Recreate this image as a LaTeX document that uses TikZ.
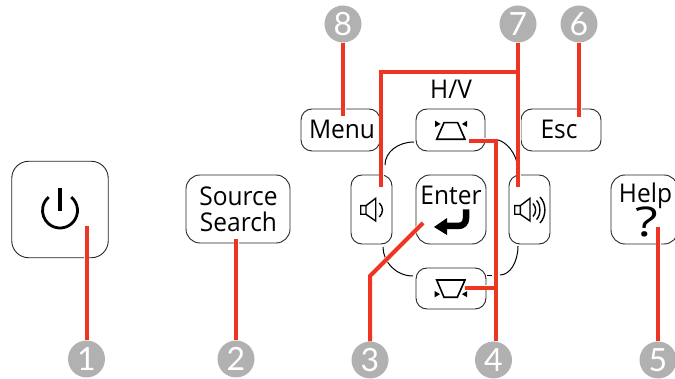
\documentclass[tikz,border=0pt]{standalone}
\usepackage{graphicx}
\usepackage{fontspec}
\setmainfont[FakeStretch=0.95]{Open Sans}
\newfontfamily\numfont{Lato}
\begin{document}
\begin{tikzpicture}[x=1pt,y=-1pt,
  btn/.style={draw=black!85,line width=0.9pt,rounded corners=#1,inner sep=0pt,outer sep=0pt,fill=white},
  btn/.default=11pt,
  lbl/.style={font=\fontsize{25.8}{27}\selectfont,anchor=base,inner sep=0pt,text=black},
  num/.style={circle,fill=numgray,minimum size=37pt,inner sep=0pt,text=white,font=\numfont\fontsize{32}{32}\selectfont},
  redline/.style={draw=leader,line width=4pt,miter limit=10,preaction={draw=white,line width=5pt}},
  arcline/.style={draw=black,line width=1pt},
  icon/.style={draw=black,line width=1.6pt,line join=miter},
  spk/.style={draw=black,line width=1.4pt,line join=miter},
  tri/.style={fill=black}]
\definecolor{leader}{HTML}{EE3524}
\definecolor{numgray}{HTML}{B1B1B1}
\clip (0,0) rectangle (675,379);
\fill[white] (0,0) rectangle (675,379);
% connecting arcs of the direction pad
\draw[arcline] (414,142) .. controls (398,142) and (385,152) .. (385,165);
\draw[arcline] (498,140) .. controls (506,142) and (516,152) .. (518,168);
\draw[arcline] (383,247) .. controls (383,262) and (396,276) .. (413,276);
\draw[arcline] (518,246) .. controls (518,262) and (510,275) .. (500,275);
\draw[arcline] (487,276) -- (492,276);
% buttons
\node[btn=17pt,minimum width=96.5pt,minimum height=96.5pt] (power) at (60,209.5) {};
\node[btn=14pt,minimum width=104pt,minimum height=68pt] (source) at (238,209) {};
\node[btn,minimum width=79pt,minimum height=42pt] (menu) at (340.5,130) {};
\node[btn,minimum width=69pt,minimum height=42pt] (up) at (450.5,130) {};
\node[btn,minimum width=80pt,minimum height=42pt] (esc) at (561,130) {};
\node[btn,minimum width=41pt,minimum height=69pt] (voll) at (371.5,209.5) {};
\node[btn=14pt,minimum width=70pt,minimum height=69pt] (enter) at (451,209.5) {};
\node[btn,minimum width=41pt,minimum height=69pt] (volr) at (529.5,209.5) {};
\node[btn,minimum width=70pt,minimum height=41pt] (down) at (451,288.5) {};
\node[btn=14pt,minimum width=67pt,minimum height=69pt] (help) at (644.5,209.5) {};
% labels
\node[lbl] (tmenu) at (342,138.5) {Menu};
\node[lbl] (tesc) at (559,138.5) {Esc};
\node[lbl] (thv) at (451,99) {H/V};
\node[lbl] (tenter) at (451,205) {Enter};
\node[lbl] (tsource) at (238.5,206) {Source};
\node[lbl] (tsearch) at (238.5,232) {Search};
\node[lbl] (thelp) at (645.5,203) {Help};
\node[lbl,font=\fontsize{41}{41}\selectfont] (tq) at (647,237) {\scalebox{1.35}[1]{?}};
% power icon
\draw[line width=2.8pt] (71.25,197.1) arc[start angle=50,end angle=-230,radius=17.5pt];
\draw[line width=3.6pt] (60,188) -- (60,211);
% keystone icons
\draw[icon] (444,122.7) -- (457.7,122.7) -- (465,139.3) -- (436.7,139.3) -- cycle;
\fill[tri] (435.2,120.7) -- (435.2,127) -- (440.5,124) -- cycle;
\fill[tri] (467.2,120.7) -- (467.2,127) -- (461.9,124) -- cycle;
\draw[icon] (436.7,280) -- (465,280) -- (457.3,297.3) -- (444,297.3) -- cycle;
\fill[tri] (434.7,291) -- (434.7,297.3) -- (440,294.2) -- cycle;
\fill[tri] (467.2,291) -- (467.2,297.3) -- (461.9,294.2) -- cycle;
% speaker icons
\draw[spk] (360.7,205.7) -- (366,205.7) -- (375.7,198.3) -- (375.7,221) -- (366,214.3) -- (360.7,214.3) -- cycle (366,205.7) -- (366,214.3);
\draw[spk] (379.3,203) .. controls (383.5,207) and (383.5,213) .. (379.3,217);
\draw[spk] (514.7,205.7) -- (520.3,205.7) -- (530,198.3) -- (530,221) -- (520.3,214.3) -- (514.7,214.3) -- cycle (520.3,205.7) -- (520.3,214.3);
\draw[spk] (533,203.5) .. controls (536.5,207) and (536.5,213) .. (533,216.5);
\draw[spk] (536.5,200.5) .. controls (541,205) and (541,215) .. (536.5,219.5);
\draw[spk] (540,197) .. controls (546.5,204) and (546.5,216) .. (540,223);
% enter arrow
\draw[line width=6.5pt] (466,209.5) -- (466,218) .. controls (466,223) and (463,226) .. (458,226) -- (445,226);
\fill (434,227) -- (447,218) -- (447,235) -- cycle;
% numbered circles
\node[num] (n1) at (86.5,359) {1};
\node[num] (n2) at (236,359) {2};
\node[num] (n3) at (370,360) {3};
\node[num] (n4) at (493.5,360) {4};
\node[num] (n5) at (658,360) {5};
\node[num] (n6) at (579,24) {6};
\node[num] (n7) at (518,24) {7};
\node[num] (n8) at (343,24) {8};
% leader ends
\coordinate (p1) at (86.5,226);
\coordinate (p2) at (236,239);
\coordinate (p3a) at (370,276);
\coordinate (p3b) at (423,223);
\coordinate (p4top) at (495.5,141);
\coordinate (p4end) at (469,141);
\coordinate (p4j) at (495.5,288);
\coordinate (p4d) at (465,288);
\coordinate (p5) at (658,227);
\coordinate (p6) at (579,117);
\coordinate (p7j) at (518,72.5);
\coordinate (p7r) at (518,187);
\coordinate (p7c) at (381,72.5);
\coordinate (p7l) at (381,187);
\coordinate (p8) at (343,116);
% leaders
\draw[redline] (n1) -- (p1);
\draw[redline] (n2) -- (p2);
\draw[redline] (n3) -- (p3a) -- (p3b);
\draw[redline] (n4.north -| p4j) -- (p4top) -- (p4end) (p4j) -- (p4d);
\draw[redline] (n5) -- (p5);
\draw[redline] (n6) -- (p6);
\draw[redline] (n7) -- (p7r) (p7j) -- (p7c) -- (p7l);
\draw[redline] (n8) -- (p8);
\end{tikzpicture}
\end{document}
